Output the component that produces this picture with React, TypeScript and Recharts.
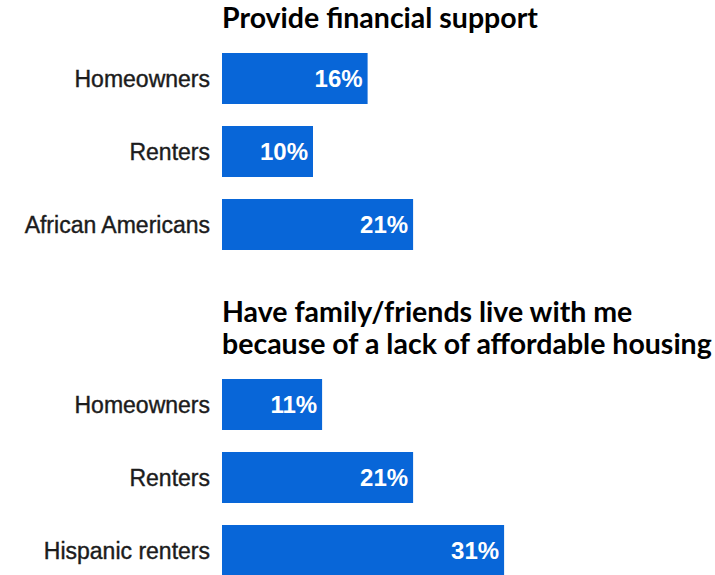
import { BarChart, Bar, XAxis, YAxis, LabelList } from 'recharts'

// Panel 1: provide financial support
const supportTitle = 'Provide financial support'
const supportGroups = ['Homeowners', 'Renters', 'African Americans']
const supportValues = [16, 10, 21]

// Panel 2: family/friends living with respondent
const housingTitle = ['Have family/friends live with me', 'because of a lack of affordable housing']
const housingGroups = ['Homeowners', 'Renters', 'Hispanic renters']
const housingValues = [11, 21, 31]

const BLUE = '#0866d8'
const titleStyle = {
  position: 'absolute' as const,
  left: 222,
  fontFamily: 'Lato, sans-serif',
  fontWeight: 700,
  fontSize: 28.5,
  color: '#000',
  whiteSpace: 'nowrap' as const,
}

function Panel({ groups, values, top, height, marginTop }: {
  groups: string[]; values: number[]; top: number; height: number; marginTop: number
}) {
  const data = groups.map((name, i) => ({ name, value: values[i] }))
  return (
    <div style={{ position: 'absolute', left: 0, top }}>
      <BarChart width={715} height={height} data={data} layout="vertical"
                margin={{ top: marginTop, right: 38, bottom: 0, left: 0 }}>
        <XAxis type="number" domain={[0, 50]} hide />
        <YAxis type="category" dataKey="name" width={222} axisLine={false} tickLine={false}
               tickMargin={6}
               tick={{ fontSize: 23, fill: '#1c1c1c', stroke: '#1c1c1c', strokeWidth: 0.4,
                       fontFamily: '"Liberation Sans", Arial, sans-serif' }} />
        <Bar dataKey="value" fill={BLUE} barSize={51} isAnimationActive={false}>
          <LabelList dataKey="value" position="insideRight" offset={5}
                     formatter={(v: number) => `${v}%`}
                     fill="#fff" fontSize={24} fontWeight={700}
                     fontFamily='"Liberation Sans", Arial, sans-serif' />
        </Bar>
      </BarChart>
    </div>
  )
}

export default function App() {
  return (
    <div style={{ position: 'absolute', left: 0, top: 0, width: 715, height: 575, overflow: 'hidden', background: '#fff' }}>
      <div style={{ ...titleStyle, top: 1, lineHeight: '32px' }}>{supportTitle}</div>
      <Panel groups={supportGroups} values={supportValues} top={0} height={261} marginTop={42} />

      <div style={{ ...titleStyle, top: 295, lineHeight: '32px' }}>
        {housingTitle.map(line => <div key={line}>{line}</div>)}
      </div>
      <Panel groups={housingGroups} values={housingValues} top={368} height={219} marginTop={0} />
    </div>
  )
}
